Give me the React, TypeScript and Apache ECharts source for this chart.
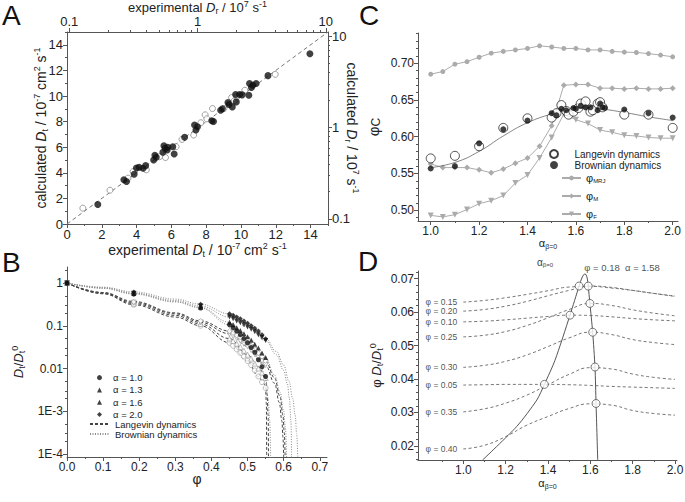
import React, { useEffect, useRef } from 'react';
import * as echarts from 'echarts';

const FONT = 'Liberation Sans, Arial, Helvetica, sans-serif';
const INK = '#222';
const AX = '#555';
const PHI = 'φ';

// ---------------- Panel A ----------------
const aOpen = [
  [0.91, 1.24], [2.47, 2.64], [3.51, 3.58], [3.8, 4.1], [4.56, 4.23], [5.32, 5.26], [5.66, 5.19],
  [6.27, 6.04], [6.61, 6.61], [7.28, 6.95], [7.69, 7.91], [7.94, 8.53], [8.04, 8.22], [8.36, 9.02],
  [9.02, 9.02], [9.46, 9.88], [9.61, 9.62], [9.75, 9.93], [10.22, 10.45], [11.97, 11.69],
];
const aFilled = [
  [1.77, 1.53], [3.27, 3.45], [3.42, 3.32], [3.86, 3.89], [3.99, 4.38], [4.14, 4.43], [4.37, 4.36],
  [4.52, 4.56], [4.98, 5.0], [5.05, 5.37], [5.13, 5.21], [5.51, 5.6], [5.57, 6.12], [5.64, 5.91],
  [5.76, 5.78], [5.79, 5.99], [6.08, 6.04], [6.16, 5.47], [6.76, 6.77], [7.33, 7.73], [7.41, 7.34],
  [7.5, 7.6], [8.32, 8.06], [8.42, 8.01], [8.83, 8.89], [8.93, 9.0], [9.25, 9.49], [9.31, 9.33],
  [9.5, 9.15], [9.69, 10.11], [9.73, 9.54], [9.92, 10.11], [10.07, 10.09], [10.45, 10.06],
  [10.49, 10.97], [10.6, 10.66], [10.68, 10.84], [10.87, 10.97], [11.55, 11.59], [13.96, 13.3],
];
const aDiag = [[0, 0], [15, 15]];
const aMajor = [0, 2, 4, 6, 8, 10, 12, 14];
const aMinor = [1, 3, 5, 7, 9, 11, 13, 15];
const aLogMajor = [0.1, 1, 10];
const aLogMinor = [0.2, 0.3, 0.4, 0.5, 0.6, 0.7, 0.8, 0.9, 2, 3, 4, 5, 6, 7, 8, 9];

// ---------------- Panel B ----------------
const bPhi = [0, 0.185, 0.37, 0.45, 0.46, 0.47, 0.48, 0.49, 0.5, 0.51, 0.52, 0.53, 0.54, 0.55];
const bBrown10 = [1, 0.55, 0.26, 0.105, 0.09, 0.075, 0.062, 0.05, 0.04, 0.031, 0.024, 0.016, 0.011, 0.0065];
const bBrown13 = [1, 0.57, 0.27, 0.12, 0.105, 0.09, 0.077, 0.065, 0.055, 0.046, 0.037, 0.03, 0.023, 0.018];
const bBrown16 = [1, 0.58, 0.29, 0.16, 0.145, 0.13, 0.118, 0.105, 0.094, 0.083, 0.072, 0.062, 0.053, 0.045];
const bBrown20 = [1, 0.62, 0.32, 0.19, 0.175, 0.16, 0.145, 0.13, 0.115, 0.1, 0.088, 0.075, 0.062, 0.05];
const bLang10 = [1, 0.31, 0.1, 0.04, 0.034, 0.028, 0.023, 0.019, 0.015, 0.012, 0.009, 0.0065, 0.0048, 0.0035];
const bLang13 = [1, 0.33, 0.11, 0.05, 0.044, 0.038, 0.032, 0.026, 0.021, 0.017, 0.013, 0.01, 0.008, 0.006];
const bLang16 = [1, 0.35, 0.12, 0.065, 0.058, 0.051, 0.044, 0.038, 0.033, 0.027, 0.022, 0.018, 0.015, 0.012];
const bLang20 = [1, 0.36, 0.13, 0.075, 0.068, 0.06, 0.053, 0.046, 0.04, 0.034, 0.028, 0.023, 0.019, 0.015];

const bCurveB20x = [0, 0.1, 0.185, 0.3, 0.37, 0.45, 0.5, 0.55, 0.58, 0.6, 0.615, 0.625, 0.632, 0.636, 0.639];
const bCurveB20y = [1, 0.8, 0.62, 0.42, 0.32, 0.19, 0.115, 0.05, 0.025, 0.012, 0.005, 0.002, 0.0008, 0.0003, 0.00008];
const bCurveB16x = [0, 0.1, 0.185, 0.3, 0.37, 0.45, 0.5, 0.55, 0.58, 0.6, 0.61, 0.616, 0.62, 0.622];
const bCurveB16y = [1, 0.78, 0.58, 0.39, 0.29, 0.16, 0.094, 0.045, 0.021, 0.009, 0.0045, 0.002, 0.0006, 0.00008];
const bCurveB13x = [0, 0.1, 0.185, 0.3, 0.37, 0.45, 0.5, 0.55, 0.575, 0.59, 0.6, 0.605, 0.608];
const bCurveB13y = [1, 0.76, 0.57, 0.37, 0.27, 0.12, 0.055, 0.018, 0.007, 0.0028, 0.001, 0.0004, 0.00008];
const bCurveB10x = [0, 0.1, 0.185, 0.3, 0.37, 0.45, 0.5, 0.53, 0.55, 0.557, 0.561, 0.564];
const bCurveB10y = [1, 0.75, 0.55, 0.36, 0.26, 0.105, 0.04, 0.016, 0.0065, 0.002, 0.0007, 0.00008];
const bCurveL20x = [0, 0.1, 0.185, 0.3, 0.37, 0.45, 0.5, 0.55, 0.575, 0.59, 0.598, 0.602, 0.604];
const bCurveL20y = [1, 0.6, 0.37, 0.2, 0.13, 0.075, 0.04, 0.015, 0.006, 0.0022, 0.0008, 0.0003, 0.00008];
const bCurveL16x = [0, 0.1, 0.185, 0.3, 0.37, 0.45, 0.5, 0.55, 0.575, 0.588, 0.595, 0.598, 0.6];
const bCurveL16y = [1, 0.59, 0.35, 0.19, 0.12, 0.065, 0.033, 0.012, 0.0045, 0.0016, 0.0006, 0.00025, 0.00008];
const bCurveL13x = [0, 0.1, 0.185, 0.3, 0.37, 0.45, 0.5, 0.53, 0.55, 0.554, 0.557, 0.558];
const bCurveL13y = [1, 0.57, 0.33, 0.175, 0.11, 0.05, 0.021, 0.011, 0.006, 0.0025, 0.0008, 0.00008];
const bCurveL10x = [0, 0.1, 0.185, 0.3, 0.37, 0.45, 0.5, 0.53, 0.545, 0.55, 0.552, 0.553];
const bCurveL10y = [1, 0.56, 0.31, 0.16, 0.1, 0.04, 0.015, 0.0065, 0.0045, 0.0035, 0.0015, 0.00008];

const bXMajor = [0, 0.1, 0.2, 0.3, 0.4, 0.5, 0.6, 0.7];
const bXMinor = [0.05, 0.15, 0.25, 0.35, 0.45, 0.55, 0.65];
const bYMajor = [0.0001, 0.001, 0.01, 0.1, 1];
const bYMinor = [0.0002, 0.0003, 0.0005, 0.002, 0.003, 0.005, 0.02, 0.03, 0.05, 0.2, 0.3, 0.5, 2];

// ---------------- Panel C ----------------
const cAlpha = [1.0, 1.05, 1.1, 1.15, 1.2, 1.25, 1.3, 1.35, 1.4, 1.45, 1.5, 1.55, 1.6, 1.65, 1.7, 1.75, 1.8, 1.85, 1.9, 1.95, 2.0];
const cMRJ = [0.685, 0.6886, 0.6986, 0.702, 0.708, 0.7136, 0.716, 0.718, 0.72, 0.7236, 0.722, 0.72, 0.72, 0.718, 0.718, 0.716, 0.715, 0.7145, 0.713, 0.711, 0.7086];
const cM = [0.563, 0.558, 0.558, 0.558, 0.555, 0.551, 0.556, 0.564, 0.571, 0.587, 0.615, 0.67, 0.671, 0.671, 0.666, 0.666, 0.665, 0.666, 0.665, 0.665, 0.666];
const cF = [0.493, 0.491, 0.494, 0.501, 0.509, 0.513, 0.52, 0.537, 0.548, 0.571, 0.599, 0.631, 0.623, 0.618, 0.609, 0.606, 0.602, 0.601, 0.599, 0.598, 0.598];
const cLang = [
  [1.0, 0.5705], [1.1, 0.574], [1.2, 0.587], [1.3, 0.612], [1.4, 0.625], [1.5, 0.626], [1.52, 0.632],
  [1.54, 0.643], [1.56, 0.635], [1.57, 0.63], [1.59, 0.634], [1.61, 0.639], [1.62, 0.645], [1.64, 0.648],
  [1.66, 0.634], [1.67, 0.636], [1.69, 0.645], [1.7, 0.647], [1.71, 0.64], [1.8, 0.63], [1.9, 0.63], [2.0, 0.612],
];
const cBrown = [
  [1.0, 0.5568], [1.1, 0.56], [1.2, 0.591], [1.3, 0.61], [1.4, 0.622], [1.5, 0.632], [1.52, 0.629],
  [1.54, 0.638], [1.56, 0.636], [1.59, 0.639], [1.6, 0.638], [1.62, 0.642], [1.64, 0.64], [1.66, 0.64],
  [1.69, 0.636], [1.7, 0.645], [1.71, 0.64], [1.72, 0.639], [1.8, 0.637], [1.9, 0.632], [2.0, 0.626],
];
const cFit = [
  [1.0, 0.558], [1.1, 0.565], [1.2, 0.58], [1.3, 0.601], [1.4, 0.619], [1.5, 0.631], [1.55, 0.635],
  [1.6, 0.638], [1.65, 0.639], [1.7, 0.638], [1.8, 0.633], [1.9, 0.627], [2.0, 0.622],
];
const cXMajor = [1.0, 1.2, 1.4, 1.6, 1.8, 2.0];
const cXMinor = [1.1, 1.3, 1.5, 1.7, 1.9];
const cYMajor = [0.5, 0.55, 0.6, 0.65, 0.7];

// ---------------- Panel D ----------------
const dAlpha = [1.0, 1.1, 1.2, 1.3, 1.4, 1.5, 1.6, 1.7, 1.8, 1.9, 2.0];
const dPhiLabels = ['0.15', '0.20', '0.10', '0.25', '0.30', '0.05', '0.35', '0.40'];
const dPhi015 = [0.063, 0.0635, 0.0643, 0.0653, 0.0664, 0.0675, 0.0677, 0.0672, 0.0665, 0.0656, 0.0647];
const dPhi020 = [0.0603, 0.0608, 0.0618, 0.0632, 0.0649, 0.0665, 0.0678, 0.0674, 0.0665, 0.0656, 0.0648];
const dPhi010 = [0.0571, 0.0573, 0.0577, 0.0582, 0.0587, 0.0591, 0.059, 0.0586, 0.0581, 0.0577, 0.0574];
const dPhi025 = [0.0526, 0.0531, 0.0542, 0.056, 0.0583, 0.0608, 0.0626, 0.062, 0.0607, 0.0597, 0.0589];
const dPhi030 = [0.0435, 0.0441, 0.0453, 0.0472, 0.0497, 0.0523, 0.054, 0.0533, 0.0518, 0.0509, 0.0503];
const dPhi005 = [0.0382, 0.0383, 0.0384, 0.0384, 0.0384, 0.0383, 0.0381, 0.0378, 0.0376, 0.0374, 0.0372];
const dPhi035 = [0.0302, 0.0311, 0.0328, 0.0352, 0.0383, 0.0414, 0.0434, 0.043, 0.0415, 0.0405, 0.0399];
const dPhi040 = [0.0191, 0.0202, 0.0228, 0.0262, 0.0288, 0.0312, 0.0326, 0.0322, 0.0306, 0.0297, 0.0292];
const dCurves = [dPhi015, dPhi020, dPhi010, dPhi025, dPhi030, dPhi005, dPhi035, dPhi040];
const dEnvelope = [
  [1.091, 0.0158], [1.252, 0.0258], [1.347, 0.0337], [1.383, 0.0384], [1.433, 0.0456], [1.504, 0.0591],
  [1.547, 0.0678], [1.562, 0.0705], [1.575, 0.0715], [1.584, 0.0705], [1.59, 0.0678], [1.598, 0.0626],
  [1.611, 0.054], [1.622, 0.0436], [1.627, 0.0327], [1.635, 0.0158],
];
const dMaxima = [
  [1.547, 0.0678], [1.59, 0.0678], [1.598, 0.0626], [1.504, 0.0591], [1.611, 0.054],
  [1.622, 0.0436], [1.383, 0.0384], [1.627, 0.0327],
];
const dPeak = [1.575, 0.0715];
const dXMajor = [1.0, 1.2, 1.4, 1.6, 1.8, 2.0];
const dXMinor = [0.9, 1.1, 1.3, 1.5, 1.7, 1.9];
const dYMajor = [0.02, 0.03, 0.04, 0.05, 0.06, 0.07];

// ---------------- helpers ----------------
function steps(a: number, b: number, s: number, exclude: number[]) {
  const out: number[] = [];
  for (let v = a; v <= b + 1e-9; v += s) {
    const r = +v.toFixed(6);
    if (!exclude.some((e) => Math.abs(e - r) < 1e-9)) out.push(r);
  }
  return out;
}
const cYMinor = steps(0.49, 0.74, 0.01, cYMajor);
const dYMinor = steps(0.016, 0.072, 0.002, dYMajor);

function rich(fs: number) {
  const lh = fs + 3;
  const sfs = Math.round(fs * 0.66);
  return {
    n: { fontSize: fs, lineHeight: lh, fontFamily: FONT, color: INK },
    i: { fontSize: fs, lineHeight: lh, fontFamily: FONT, color: INK, fontStyle: 'italic' },
    c: { fontSize: Math.round(fs * 0.8), lineHeight: Math.round(fs * 0.8), verticalAlign: 'bottom', fontFamily: FONT, color: INK },
    sub: { fontSize: sfs, lineHeight: sfs, verticalAlign: 'bottom', fontFamily: FONT, color: INK },
    sup: { fontSize: sfs, lineHeight: sfs, verticalAlign: 'top', fontFamily: FONT, color: INK },
  };
}

function mkAxis(o: any) {
  return {
    type: o.type || 'value',
    gridIndex: o.grid,
    position: o.pos,
    min: o.min,
    max: o.max,
    ...(o.type === 'log' ? { logBase: 10 } : {}),
    axisLine: { show: o.line !== false, onZero: false, lineStyle: { color: AX, width: 1 } },
    axisTick: { show: true, length: o.len ?? 4, lineStyle: { color: AX, width: 1 }, customValues: o.ticks },
    axisLabel: o.labels
      ? { show: true, customValues: o.labels, formatter: o.fmt, color: INK, fontSize: o.fs, fontFamily: FONT, margin: o.margin ?? 4 }
      : { show: false },
    splitLine: { show: false },
    splitArea: { show: false },
    minorTick: { show: false },
    minorSplitLine: { show: false },
    name: o.name,
    nameLocation: 'middle',
    nameGap: o.gap,
    nameRotate: o.rot,
    nameMoveOverlap: false,
    nameTextStyle: o.name
      ? { fontSize: o.nfs, fontFamily: FONT, color: INK, lineHeight: o.nfs + 3, rich: rich(o.nfs) }
      : undefined,
    silent: true,
  };
}

const logFmt = (v: number) => (v >= 1 ? String(Math.round(v)) : String(+v.toFixed(2)));
const bYFmt = (v: number) => {
  const e = Math.round(Math.log10(v));
  return e >= -2 ? String(+Math.pow(10, e).toFixed(2)) : '1E' + e;
};
const zip = (xs: number[], ys: number[]) => xs.map((x, i) => [x, ys[i]]);

function buildOption() {
  const xAxis = [
    mkAxis({ grid: 0, pos: 'bottom', min: 0, max: 15, labels: aMajor, ticks: aMajor, fmt: (v: number) => String(v), fs: 13,
      name: 'experimental {i|D}{sub|t} / 10{sup|-7} cm{sup|2} s{sup|-1}', gap: 17, nfs: 14 }),
    mkAxis({ grid: 0, pos: 'bottom', min: 0, max: 15, ticks: aMinor, len: 2, line: false }),
    mkAxis({ type: 'log', grid: 0, pos: 'top', min: 0.096, max: 10.4, labels: aLogMajor, ticks: aLogMajor, fmt: logFmt, fs: 13,
      name: 'experimental {i|D}{sub|r} / 10{sup|7} s{sup|-1}', gap: 17, nfs: 13 }),
    mkAxis({ type: 'log', grid: 0, pos: 'top', min: 0.096, max: 10.4, ticks: aLogMinor, len: 2, line: false }),
    mkAxis({ grid: 1, pos: 'bottom', min: 0, max: 0.72, labels: bXMajor, ticks: bXMajor, fmt: (v: number) => v.toFixed(1), fs: 12,
      name: PHI, gap: 13, nfs: 14 }),
    mkAxis({ grid: 1, pos: 'bottom', min: 0, max: 0.72, ticks: bXMinor, len: 2, line: false }),
    mkAxis({ grid: 2, pos: 'bottom', min: 0.9475, max: 2.022, labels: cXMajor, ticks: cXMajor, fmt: (v: number) => v.toFixed(1), fs: 12,
      name: 'α{sub|β=0}', gap: 15, nfs: 11 }),
    mkAxis({ grid: 2, pos: 'bottom', min: 0.9475, max: 2.022, ticks: cXMinor, len: 2, line: false }),
    mkAxis({ grid: 3, pos: 'bottom', min: 0.786, max: 2.0094, labels: dXMajor, ticks: dXMajor, fmt: (v: number) => v.toFixed(1), fs: 12,
      name: 'α{sub|β=0}', gap: 16, nfs: 11 }),
    mkAxis({ grid: 3, pos: 'bottom', min: 0.786, max: 2.0094, ticks: dXMinor, len: 2, line: false }),
  ];
  const yAxis = [
    mkAxis({ grid: 0, pos: 'left', min: 0, max: 15, labels: aMajor, ticks: aMajor, fmt: (v: number) => String(v), fs: 13,
      name: 'calculated {i|D}{sub|t} / 10{sup|-7} cm{sup|2} s{sup|-1}', gap: 18, nfs: 14 }),
    mkAxis({ grid: 0, pos: 'left', min: 0, max: 15, ticks: aMinor, len: 2, line: false }),
    mkAxis({ type: 'log', grid: 0, pos: 'right', min: 0.088, max: 11.06, labels: aLogMajor, ticks: aLogMajor, fmt: logFmt, fs: 13,
      name: 'calculated {i|D}{sub|r} / 10{sup|7} s{sup|-1}', gap: 15, rot: -90, nfs: 14 }),
    mkAxis({ type: 'log', grid: 0, pos: 'right', min: 0.088, max: 11.06, ticks: aLogMinor, len: 2, line: false }),
    mkAxis({ type: 'log', grid: 1, pos: 'left', min: 0.000085, max: 2.37, labels: bYMajor, ticks: bYMajor, fmt: bYFmt, fs: 12,
      name: '{i|D}{sub|t}/{i|D}{sub|t}{sup|0}', gap: 41, nfs: 13 }),
    mkAxis({ type: 'log', grid: 1, pos: 'left', min: 0.000085, max: 2.37, ticks: bYMinor, len: 2, line: false }),
    mkAxis({ grid: 2, pos: 'left', min: 0.4854, max: 0.741, labels: cYMajor, ticks: cYMajor, fmt: (v: number) => v.toFixed(2), fs: 12,
      name: '{n|' + PHI + '}{c|C}', gap: 36, nfs: 15 }),
    mkAxis({ grid: 2, pos: 'left', min: 0.4854, max: 0.741, ticks: cYMinor, len: 2, line: false }),
    mkAxis({ grid: 3, pos: 'left', min: 0.0158, max: 0.0723, labels: dYMajor, ticks: dYMajor, fmt: (v: number) => v.toFixed(2), fs: 12,
      name: '{n|' + PHI + ' }{i|D}{sub|t}/{i|D}{sub|t}{sup|0}', gap: 34, nfs: 13 }),
    mkAxis({ grid: 3, pos: 'left', min: 0.0158, max: 0.0723, ticks: dYMinor, len: 2, line: false }),
  ];

  const series: any[] = [];
  // A
  series.push({ type: 'line', name: 'aDiag', xAxisIndex: 0, yAxisIndex: 0, data: aDiag, symbol: 'none', silent: true,
    lineStyle: { color: '#777', width: 1, type: [4, 3] }, z: 1 });
  series.push({ type: 'scatter', name: 'aOpen', xAxisIndex: 0, yAxisIndex: 0, data: aOpen, symbol: 'circle', symbolSize: 6, silent: true,
    itemStyle: { color: '#fff', borderColor: '#8a8a8a', borderWidth: 1 }, z: 3 });
  series.push({ type: 'scatter', name: 'aFilled', xAxisIndex: 0, yAxisIndex: 0, data: aFilled, symbol: 'circle', symbolSize: 7, silent: true,
    itemStyle: { color: '#111' }, z: 4 });

  // B curves
  const bLine = (name: string, xs: number[], ys: number[], dashed: boolean) => ({
    type: 'line', name, xAxisIndex: 4, yAxisIndex: 4, data: zip(xs, ys), symbol: 'none', smooth: 0.4, smoothMonotone: 'x',
    silent: true, clip: true,
    itemStyle: { color: dashed ? '#444' : '#8a8a8a' },
    lineStyle: dashed ? { color: '#444', width: 1, type: [3, 2] } : { color: '#8a8a8a', width: 1, type: [1, 1.5] }, z: 2,
  });
  series.push(bLine('bLD', bCurveL10x, bCurveL10y, true));
  series.push(bLine('bLD', bCurveL13x, bCurveL13y, true));
  series.push(bLine('bLD', bCurveL16x, bCurveL16y, true));
  series.push(bLine('bLD', bCurveL20x, bCurveL20y, true));
  series.push(bLine('bBD', bCurveB10x, bCurveB10y, false));
  series.push(bLine('bBD', bCurveB13x, bCurveB13y, false));
  series.push(bLine('bBD', bCurveB16x, bCurveB16y, false));
  series.push(bLine('bBD', bCurveB20x, bCurveB20y, false));
  const bSym: [string, string, number, number[], number[]][] = [
    ['bA1', 'circle', 0, bBrown10, bLang10],
    ['bA13', 'triangle', 0, bBrown13, bLang13],
    ['bA16', 'triangle', 180, bBrown16, bLang16],
    ['bA20', 'diamond', 0, bBrown20, bLang20],
  ];
  bSym.forEach(([name, sym, rot, brown, lang]) => {
    series.push({ type: 'scatter', name: name + 'L', xAxisIndex: 4, yAxisIndex: 4, data: zip(bPhi, lang), symbol: sym, symbolRotate: rot,
      symbolSize: 5, silent: true, itemStyle: { color: '#fff', borderColor: '#999', borderWidth: 0.8 }, z: 3 });
  });
  bSym.forEach(([name, sym, rot, brown]) => {
    series.push({ type: 'scatter', name, xAxisIndex: 4, yAxisIndex: 4, data: zip(bPhi, brown), symbol: sym, symbolRotate: rot,
      symbolSize: 5, silent: true, itemStyle: { color: '#111' }, z: 4 });
  });

  // C
  const gray = '#ababab';
  const cLine = (name: string, ys: number[], sym: string, rot: number, size: number) => ({
    type: 'line', name, xAxisIndex: 6, yAxisIndex: 6, data: zip(cAlpha, ys), symbol: sym, symbolRotate: rot, symbolSize: size,
    showSymbol: true, silent: true, lineStyle: { color: gray, width: 1 }, itemStyle: { color: gray }, z: 2,
  });
  series.push(cLine('cMRJ', cMRJ, 'circle', 0, 5));
  series.push(cLine('cM', cM, 'diamond', 0, 6));
  series.push(cLine('cF', cF, 'triangle', 180, 6));
  series.push({ type: 'line', name: 'cFit', xAxisIndex: 6, yAxisIndex: 6, data: cFit, symbol: 'none', smooth: 0.5, silent: true,
    lineStyle: { color: '#666', width: 0.8 }, z: 3 });
  series.push({ type: 'scatter', name: 'cLD', xAxisIndex: 6, yAxisIndex: 6, data: cLang, symbol: 'circle', symbolSize: 9, silent: true,
    itemStyle: { color: '#fff', borderColor: '#111', borderWidth: 0.9 }, z: 4 });
  series.push({ type: 'scatter', name: 'cBD', xAxisIndex: 6, yAxisIndex: 6, data: cBrown, symbol: 'circle', symbolSize: 6, silent: true,
    itemStyle: { color: '#111' }, z: 5 });

  // D
  dCurves.forEach((ys, i) => {
    series.push({ type: 'line', name: 'd' + dPhiLabels[i], xAxisIndex: 8, yAxisIndex: 8, data: zip(dAlpha, ys), symbol: 'none',
      smooth: 0.5, silent: true, lineStyle: { color: '#666', width: 0.9, type: [3, 2.5] }, z: 2 });
  });
  series.push({ type: 'line', name: 'dEnv', xAxisIndex: 8, yAxisIndex: 8, data: dEnvelope, symbol: 'none', smooth: 0.25, silent: true,
    lineStyle: { color: '#555', width: 1 }, z: 3 });
  series.push({ type: 'scatter', name: 'dMax', xAxisIndex: 8, yAxisIndex: 8, data: dMaxima, symbol: 'circle', symbolSize: 8, silent: true,
    itemStyle: { color: '#fff', borderColor: '#444', borderWidth: 0.9 }, z: 4 });
  series.push({ type: 'scatter', name: 'dLab', xAxisIndex: 8, yAxisIndex: 8, symbolSize: 0.1, silent: true,
    data: dCurves.map((ys, i) => ({ value: [dAlpha[0], ys[0]], name: PHI + ' = ' + dPhiLabels[i] })),
    label: { show: true, position: 'left', distance: 6, formatter: (p: any) => p.name, fontSize: 8.5, fontFamily: FONT, color: INK }, z: 5 });
  series.push({ type: 'scatter', name: 'dPeak', xAxisIndex: 8, yAxisIndex: 8, symbolSize: 0.1, silent: true,
    data: [{ value: dPeak, name: PHI + ' = 0.18  α = 1.58' }],
    label: { show: true, position: 'top', distance: 1, offset: [37, 0], formatter: (p: any) => p.name, fontSize: 9.5, fontFamily: FONT, color: INK }, z: 5 });

  const bNames: Record<string, string> = { bA1: 'α = 1.0', bA13: 'α = 1.3', bA16: 'α = 1.6', bA20: 'α = 2.0', bLD: 'Langevin dynamics', bBD: 'Brownian dynamics' };
  const cNames: Record<string, string> = { cLD: 'Langevin dynamics', cBD: 'Brownian dynamics',
    cMRJ: '{ph|' + PHI + '}{sb|MRJ}', cM: '{ph|' + PHI + '}{sb|M}', cF: '{ph|' + PHI + '}{sb|F}' };
  const legBase = { orient: 'vertical', selectedMode: false, padding: 0, inactiveColor: INK };
  const legRich = {
    ph: { fontSize: 11, lineHeight: 12, fontFamily: FONT, color: '#222' },
    sb: { fontSize: 6, lineHeight: 6, verticalAlign: 'bottom', fontFamily: FONT, color: '#222' },
  };

  const legend = [
    { ...legBase, data: ['bA1', 'bA13', 'bA16', 'bA20'], left: 97, top: 372, itemWidth: 5, itemHeight: 5, itemGap: 1,
      formatter: (n: string) => bNames[n], textStyle: { fontSize: 9.5, lineHeight: 11.3, color: INK, fontFamily: FONT, padding: [0, 0, 0, 6] } },
    { ...legBase, data: [{ name: 'bLD', itemStyle: { opacity: 0 } }, { name: 'bBD', itemStyle: { opacity: 0 } }], left: 89, top: 419,
      itemWidth: 20, itemHeight: 5, itemGap: 0,
      formatter: (n: string) => bNames[n], textStyle: { fontSize: 9.5, lineHeight: 9.5, color: INK, fontFamily: FONT } },
    { ...legBase, data: ['cLD', 'cBD'], left: 549, top: 149, itemWidth: 31, itemHeight: 8, itemGap: 1,
      formatter: (n: string) => cNames[n], textStyle: { fontSize: 10, lineHeight: 10, color: INK, fontFamily: FONT } },
    { ...legBase, data: ['cMRJ', 'cM', 'cF'].map((n) => ({ name: n, textStyle: { color: '#222', rich: legRich } })),
      left: 561, top: 172, itemWidth: 19, itemHeight: 6, itemGap: 6,
      formatter: (n: string) => cNames[n],
      textStyle: { fontSize: 10, lineHeight: 12, color: '#222', fontFamily: FONT, rich: legRich } },
  ];

  const letter = (t: string, x: number, y: number) => ({
    type: 'text', left: x, top: y, silent: true,
    style: { text: t, fontSize: 28, fontFamily: FONT, fill: '#111' },
  });

  return {
    animation: false,
    backgroundColor: '#fff',
    textStyle: { fontFamily: FONT },
    grid: [
      { left: 67, top: 32, width: 261, height: 192, outerBoundsMode: 'none', containLabel: false },
      { left: 67, top: 267, width: 260, height: 190, outerBoundsMode: 'none', containLabel: false },
      { left: 418, top: 33, width: 260, height: 188, outerBoundsMode: 'none', containLabel: false },
      { left: 418, top: 271, width: 259, height: 189, outerBoundsMode: 'none', containLabel: false },
    ],
    xAxis,
    yAxis,
    legend,
    series,
    graphic: [
      letter('A', 2, 1),
      letter('B', 2, 248),
      letter('C', 359, 1),
      letter('D', 358, 247),
      {
        type: 'text', left: 537, top: 257, silent: true,
        style: { text: '{a|α}{s|β=0}', fontFamily: FONT, fill: '#444',
          rich: { a: { fontSize: 10, lineHeight: 12, fill: '#444' }, s: { fontSize: 6, lineHeight: 6, verticalAlign: 'bottom', fill: '#444' } } },
      },
    ],
  };
}

export default function App() {
  const ref = useRef<HTMLDivElement>(null);
  useEffect(() => {
    if (!ref.current) return;
    const chart = echarts.init(ref.current, undefined, { renderer: 'svg', width: 685, height: 502 });
    chart.setOption(buildOption() as any);
    return () => chart.dispose();
  }, []);
  return (
    <div
      ref={ref}
      style={{ position: 'fixed', left: 0, top: 0, width: 685, height: 502, background: '#fff' }}
    />
  );
}
